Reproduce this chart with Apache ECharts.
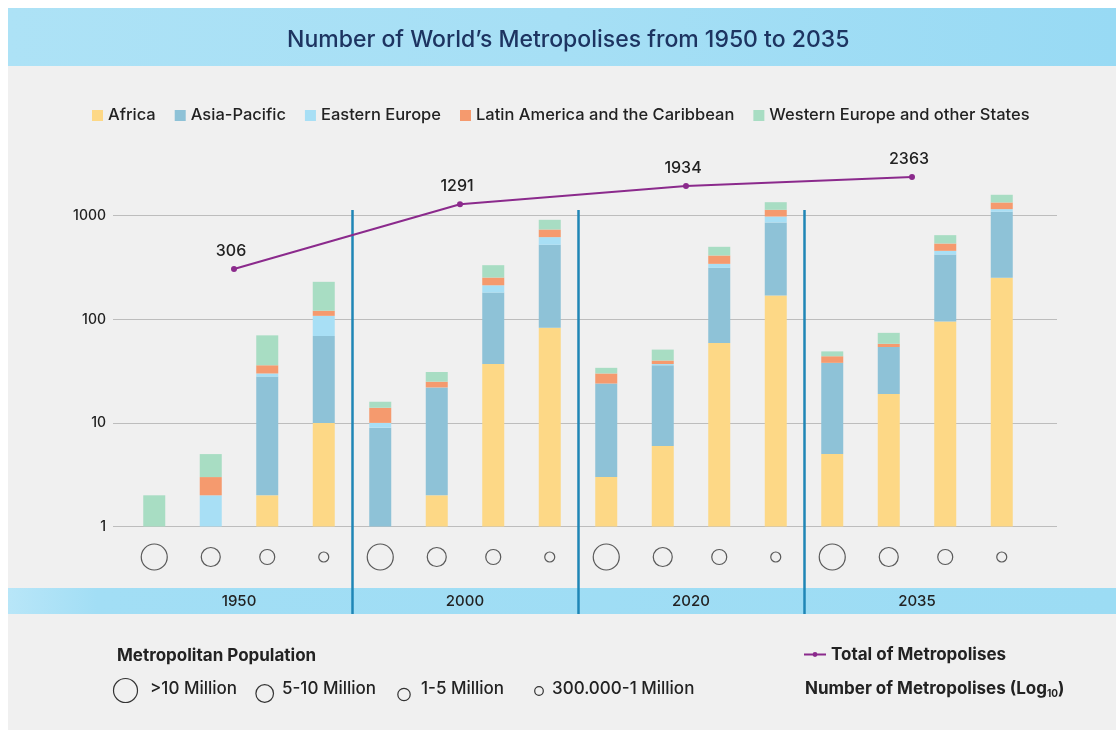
<!DOCTYPE html>
<html>
<head>
<meta charset="utf-8">
<script src="https://cdn.jsdelivr.net/npm/echarts@6/dist/echarts.min.js"></script>
<style>
  html, body { margin: 0; padding: 0; background: #fff; }
  #chart { width: 1116px; height: 733px; }
</style>
</head>
<body>
<div id="chart"></div>
<script>
// categories
const years = ['1950', '2000', '2020', '2035'];
const sizeClasses = ['>10 Million', '5-10 Million', '1-5 Million', '300.000-1 Million'];
const regions = ['Africa', 'Asia-Pacific', 'Eastern Europe', 'Latin America and the Caribbean', 'Western Europe and other States'];

// number of metropolises per bar: year x size class (16 bars)
const africa       = [0, 0, 2, 10,    0, 2, 37, 83,     3, 6, 59, 170,    5, 19, 95, 252];
const asiaPacific  = [0, 0, 26, 59,   9, 20, 144, 441,  21, 30, 255, 690, 33, 35, 327, 839];
const easternEur   = [0, 2, 2, 39,    1, 0, 32, 97,     0, 1, 29, 122,    0, 0, 36, 66];
const latinAmerica = [0, 1, 6, 13,    4, 3, 40, 115,    6, 3, 70, 158,    6, 4, 81, 185];
const westernEur   = [2, 2, 34, 109,  2, 6, 80, 177,    4, 11, 88, 210,   5, 16, 110, 250];

const totals = [306, 1291, 1934, 2363];

const regionColors = ['#FDD886', '#8EC2D7', '#A8DFF5', '#F59A6E', '#A8DDC3'];
const circleSizes = [26, 19, 15, 10];

const FONT = 'Inter, "Noto Sans", sans-serif';
const INK = '#222';

const chartDom = document.getElementById('chart');
const chart = echarts.init(chartDom);

// one category per bar
const barCats = [];
years.forEach(y => sizeClasses.forEach(s => barCats.push(y + ' ' + s)));

const regionData = [africa, asiaPacific, easternEur, latinAmerica, westernEur];

// stacked segments on the log axis: [bar, bottom, top], first segment starts at 1
function stackSegments(idx) {
    const out = [];
    barCats.forEach((c, i) => {
        const v = regionData[idx][i];
        if (!v) return;
        let below = 0;
        for (let k = 0; k < idx; k++) below += regionData[k][i];
        out.push([i, below > 0 ? below : 1, below + v]);
    });
    return out;
}

// log scale: 1 sits at y=526.5, one decade is ~103.6px
const yBase = 733 - 526.5;
const decade = 103.6;

let series = regionData.map((vals, i) => ({
    name: regions[i],
    type: 'custom',
    xAxisIndex: 1,
    yAxisIndex: 1,
    itemStyle: { color: regionColors[i] },
    encode: { x: 0, y: [1, 2] },
    data: stackSegments(i),
    renderItem: function (params, api) {
        const top = api.coord([api.value(0), api.value(2)]);
        const bottom = api.coord([api.value(0), api.value(1)]);
        return {
            type: 'rect',
            shape: { x: top[0] - 11, y: top[1], width: 22, height: bottom[1] - top[1] },
            style: { fill: api.visual('color') },
        };
    },
}));

series.push({
    name: 'Total of Metropolises',
    type: 'line',
    xAxisIndex: 5,
    yAxisIndex: 4,
    data: totals,
    symbol: 'circle',
    symbolSize: 6,
    lineStyle: { color: '#8B2A8C', width: 2 },
    itemStyle: { color: '#8B2A8C' },
    label: {
        show: true,
        position: 'top',
        distance: 7,
        offset: [-3, 0],
        fontFamily: FONT,
        fontSize: 16,
        fontWeight: 500,
        color: INK,
    },
    z: 5,
});

// size circles under each bar
series.push({
    type: 'scatter',
    xAxisIndex: 2,
    yAxisIndex: 2,
    silent: true,
    data: barCats.map((c, i) => ({
        value: [c, 0],
        symbolSize: circleSizes[i % sizeClasses.length],
    })),
    itemStyle: { color: 'rgba(0,0,0,0)', borderColor: '#333', borderWidth: 1.2 },
});

// separators between years
series.push({
    type: 'scatter',
    xAxisIndex: 3,
    yAxisIndex: 3,
    silent: true,
    symbolSize: 0,
    data: [[0, 0]],
    markLine: {
        silent: true,
        symbol: 'none',
        label: { show: false },
        lineStyle: { color: '#1F86B6', width: 2.5, type: 'solid' },
        data: years.slice(1).map((y, i) => ({ xAxis: (i + 1) * sizeClasses.length })),
    },
});

const keyText = (x, y, text, weight) => ({
    type: 'text',
    style: { x: x, y: y, text: text, verticalAlign: 'middle', fontFamily: FONT, fontSize: 17, fontWeight: weight, fill: INK },
});
const keyCircle = (cx, cy, r) => ({
    type: 'circle', shape: { cx: cx, cy: cy, r: r },
    style: { fill: 'none', stroke: '#333', lineWidth: 1.2 },
});

const option = {
    backgroundColor: '#ffffff',
    animation: false,
    graphic: [
        { type: 'rect', shape: { x: 8, y: 8, width: 1108, height: 722 }, style: { fill: '#F0F0F0' }, z: -10 },
        {
            type: 'rect', shape: { x: 8, y: 8, width: 1108, height: 58 }, z: -9,
            style: {
                fill: new echarts.graphic.LinearGradient(0, 0, 1, 0, [
                    { offset: 0, color: '#ADE2F6' },
                    { offset: 0.5, color: '#A6DFF5' },
                    { offset: 1, color: '#98DAF4' },
                ]),
            },
        },
        {
            type: 'rect', shape: { x: 8, y: 588, width: 1108, height: 26 }, z: -9,
            style: {
                fill: new echarts.graphic.LinearGradient(0, 0, 1, 0, [
                    { offset: 0, color: '#B8E6F8' },
                    { offset: 0.08, color: '#A2DEF5' },
                    { offset: 1, color: '#9CDCF4' },
                ]),
            },
        },
        // bottom key
        keyText(117, 656, 'Metropolitan Population', 'bold'),
        keyCircle(125.5, 690.5, 12),
        keyText(150, 689, '>10 Million', 500),
        keyCircle(264.7, 693.5, 8.8),
        keyText(282, 689, '5-10 Million', 500),
        keyCircle(404, 694.5, 6.2),
        keyText(421, 689, '1-5 Million', 500),
        keyCircle(539, 691, 4.3),
        keyText(552, 689, '300.000-1 Million', 500),
        {
            type: 'text',
            style: {
                x: 805, y: 689, verticalAlign: 'middle',
                text: 'Number of Metropolises (Log{sub|10})',
                fontFamily: FONT, fontSize: 17, fontWeight: 'bold', fill: INK,
                rich: { sub: { fontFamily: FONT, fontSize: 10, fontWeight: 'bold', fill: INK, verticalAlign: 'bottom', padding: [10, 0, 0, 0] } },
            },
        },
    ],
    title: {
        text: 'Number of World\u2019s Metropolises from 1950 to 2035',
        left: 282,
        top: 24,
        textStyle: { fontFamily: FONT, fontSize: 23, fontWeight: 500, color: '#1D3461' },
    },
    legend: [
        {
            data: regions,
            left: 92,
            top: 107,
            padding: 0,
            icon: 'rect',
            itemWidth: 11,
            itemHeight: 11,
            itemGap: 19,
            textStyle: { fontFamily: FONT, fontSize: 16.5, fontWeight: 500, color: INK },
            selectedMode: false,
        },
        {
            data: ['Total of Metropolises'],
            left: 803,
            top: 646,
            padding: 0,
            itemWidth: 22,
            itemHeight: 6,
            textStyle: { fontFamily: FONT, fontSize: 17, fontWeight: 'bold', color: INK },
            selectedMode: false,
        },
    ],
    grid: [
        // gridlines and y labels
        { left: 113, right: 59, top: 733 - yBase - 3 * decade, bottom: yBase },
        // bars
        { left: 126, right: 86, top: 733 - yBase - 4 * decade, bottom: yBase },
        // size circles
        { left: 126, right: 86, top: 540, height: 34 },
        // year separators
        { left: 126, right: 86, top: 210, bottom: 119 },
        // year labels
        { left: 126, right: 86, top: 588, bottom: 119 },
        // total line
        { left: 121, right: 91, top: 733 - yBase - 4 * decade, bottom: yBase },
    ],
    xAxis: [
        { gridIndex: 0, type: 'value', min: 0, max: 1, show: false },
        { gridIndex: 1, type: 'category', data: barCats, show: false },
        { gridIndex: 2, type: 'category', data: barCats, show: false },
        { gridIndex: 3, type: 'value', min: 0, max: barCats.length, show: false },
        {
            gridIndex: 4, type: 'category', data: years,
            axisLine: { show: false }, axisTick: { show: false },
            axisLabel: { margin: -20, fontFamily: FONT, fontSize: 15, fontWeight: 500, color: INK },
        },
        { gridIndex: 5, type: 'category', data: years, show: false },
    ],
    yAxis: [
        {
            gridIndex: 0, type: 'log', logBase: 10, min: 1, max: 1000,
            axisLine: { show: false }, axisTick: { show: false },
            axisLabel: {
                margin: 7, fontFamily: FONT, fontSize: 14, fontWeight: 500, color: INK,
                formatter: v => String(Math.round(v)),
            },
            splitLine: { show: true, lineStyle: { color: '#BDBDBD', width: 1.2 } },
        },
        { gridIndex: 1, type: 'log', logBase: 10, min: 1, max: 10000, show: false, splitLine: { show: false } },
        { gridIndex: 2, type: 'value', min: -1, max: 1, show: false },
        { gridIndex: 3, type: 'value', min: 0, max: 1, show: false },
        { gridIndex: 5, type: 'log', logBase: 10, min: 1, max: 10000, show: false, splitLine: { show: false } },
        { gridIndex: 4, type: 'value', show: false },
    ],
    series: series,
};

chart.setOption(option);
</script>
</body>
</html>
